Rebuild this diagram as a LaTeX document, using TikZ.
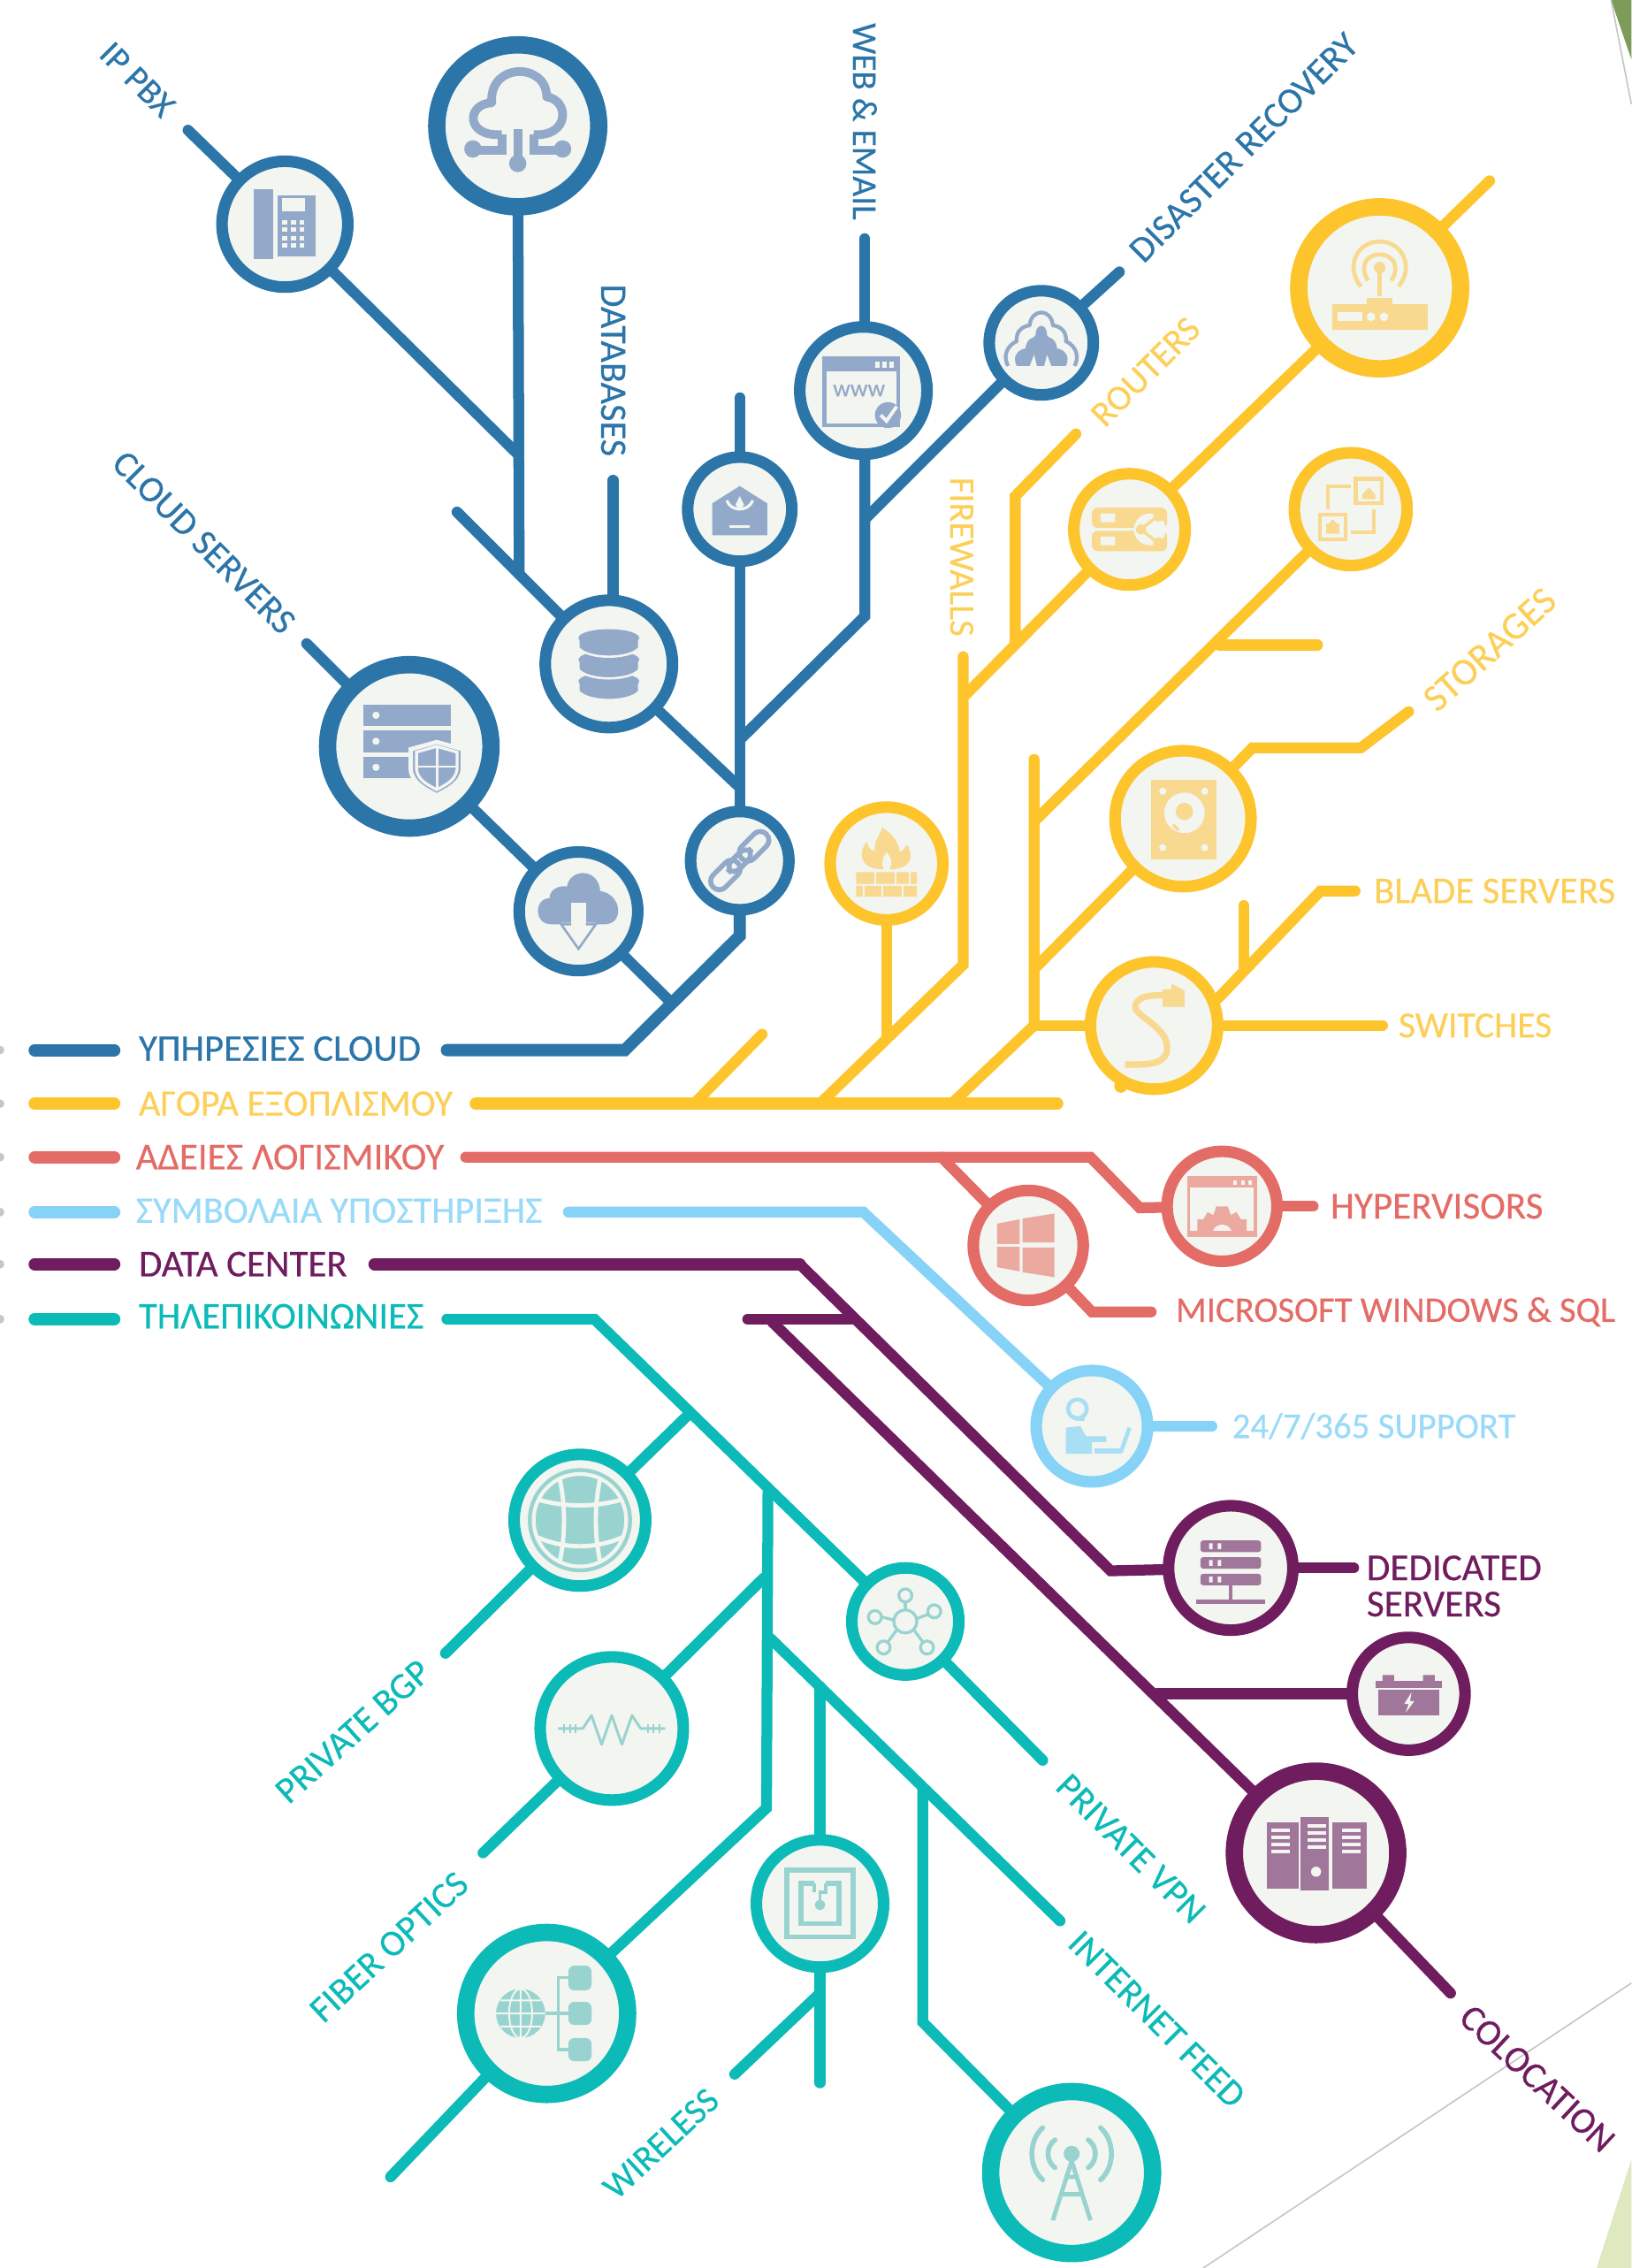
\documentclass[tikz,border=0pt]{standalone}
\usepackage{fontspec}
\usepackage{graphicx}
\setmainfont{Carlito}
\newfontfamily\labfont{Carlito}[FakeBold=0.35]
\usetikzlibrary{backgrounds}
\definecolor{cb}{HTML}{2B75A8}
\definecolor{cy}{HTML}{FDC42C}
\definecolor{cr}{HTML}{E36C66}
\definecolor{cl}{HTML}{86D3F7}
\definecolor{cp}{HTML}{6F1D5F}
\definecolor{ct}{HTML}{0CBAB7}
\definecolor{ty}{HTML}{FCCF58}
\definecolor{tl}{HTML}{98DAF8}
\definecolor{ib}{HTML}{93A9C9}
\definecolor{iy}{HTML}{F8D98F}
\definecolor{ir}{HTML}{EBA99F}
\definecolor{il}{HTML}{A9DFF5}
\definecolor{ip}{HTML}{A0769A}
\definecolor{it}{HTML}{99D3CF}
\definecolor{bgc}{HTML}{F2F5F0}
\definecolor{gdark}{HTML}{7E9C59}
\definecolor{glight}{HTML}{DFE9C0}
\newcommand{\fitw}[2]{\resizebox{\dimexpr #1pt/2\relax}{!}{#2}}
\newcommand{\ring}[6]{\node[ringnode,draw=#6,line width=#5*0.5pt,minimum size={(2*#4-#5)*0.5pt}] (#1) at (#2,#3) {};}
\tikzset{
  ringnode/.style={circle,fill=bgc,inner sep=0pt},
  wire/.style={line width=3.75pt,line cap=round,line join=miter,draw=#1},
  thick wire/.style={line width=4.25pt,line cap=round,line join=miter,draw=#1},
  lab/.style={text=#1,inner sep=0pt,outer sep=0pt,font=\labfont},
  icon at/.style={shift={(#1.center)}}
}
\begin{document}
\begin{tikzpicture}[x=0.5pt,y=-0.5pt]
\useasboundingbox (0,0) rectangle (1128,1568);
% page decoration
\fill[gdark] (1114,0) -- (1128,0) -- (1128,41) -- cycle;
\draw[gray!45,line width=0.5pt] (1114,0) -- (1128,72);
\fill[glight] (1128,1493) -- (1128,1568) -- (1104,1568) -- cycle;
\draw[gray!45,line width=0.5pt] (1128,1371) -- (832,1568);
\foreach \yy in {726,763,800,838,874,912} {\fill[gray!45] (0,\yy) circle[radius=3];}

% rings
\ring{phone}{197}{155}{47.5}{8}{cb}
\ring{cloudnet}{358}{87}{62}{12}{cb}
\ring{db}{421}{459}{48}{8}{cb}
\ring{cpanel}{511.5}{352}{40}{8}{cb}
\ring{www}{597}{270}{48}{8}{cb}
\ring{disaster}{720}{237}{40}{8}{cb}
\ring{cloudsrv}{283}{516}{62.5}{12}{cb}
\ring{clouddown}{400}{630}{45}{8}{cb}
\ring{link}{511.5}{595}{38}{8}{cb}
\ring{bigrouter}{954}{199}{62}{12}{cy}
\ring{routers}{781}{366}{42.5}{8}{cy}
\ring{stor}{934}{352}{43}{8}{cy}
\ring{fire}{613}{597}{43}{8}{cy}
\ring{hdd}{818}{566}{51}{8}{cy}
\ring{sw}{798}{709}{48}{8}{cy}
\ring{hyper}{845}{834}{42}{8}{cr}
\ring{windows}{711}{861}{42}{8}{cr}
\ring{support}{755}{986}{42.5}{8}{cl}
\ring{ded}{851}{1084}{47}{8}{cp}
\ring{batt}{974}{1171}{43}{8}{cp}
\ring{coloc}{910}{1281}{62.5}{12}{cp}
\ring{globe}{401}{1051}{49.5}{8}{ct}
\ring{res}{423}{1195}{53.5}{8}{ct}
\ring{hub}{626}{1121}{41}{8}{ct}
\ring{biggl}{378}{1392}{62}{12}{ct}
\ring{nfc}{567}{1316}{48}{8}{ct}
\ring{ant}{741}{1502}{62}{12}{ct}

% junctions
\foreach \n/\p in {bIP/{130,90},bJ1/{358,314},bJ2/{359,397},bCS/{316,354},bDB/{424,332},bJ3/{510,543},bCP/{511.5,275},bW/{598,165},bW2/{598,426},bJ4/{512,511},bD/{774,188},bJ5/{599,358},bB1/{511.5,647},bB2/{432,726},bH/{309,726},bCS2/{212,445},bJ6/{463,692},
yMA/{329,763},yMB/{731,763},yS1/{480,763},yS2/{527,715},yF1/{567,763},yF2/{666,667},yF3/{666,454},yF4/{613,718},yR1/{668,480},yR2/{1030,125},yT1/{702,444},yT2/{702,343},yT3/{744,300},yV1/{658,763},yV2/{715,709},yV3/{715,525},yN1/{717,566},yH1/{843,446},yH2/{911,446},yN2/{717,668},yG1/{866,517},yG2/{941,517},yG3/{974,492},yW/{956,709},yB1/{913,616},yB2/{937,616},yC1/{860,626},yC2/{860,668},
rA/{322,800},rB/{754,800},rC/{788,835},rD/{908,834},rE/{651,800},rF/{755,907},rG/{796,907},
lA/{393,838},lB/{597,838},lC/{838,986},
pA/{259,874},pB/{553,874},pC/{768,1086},pE/{936,1084},qA/{517,912},qB/{591,912},qC/{534,914},pF/{800,1171},pG/{1003,1378},
tA/{309,912},tB/{411,912},tC/{721,1217},tD/{475,979},tE/{308,1143},tF/{531,1032},tG/{530,1250},tH/{270,1505},tI/{528,1091},tJ/{334,1281},tK/{533,1133},tL/{733,1328},tM/{567,1166},tN/{567,1440},tO/{567,1378},tP/{508,1434},tQ/{638,1237},tR/{638,1398}}
{\coordinate (\n) at (\p);}
\foreach \n/\yy in {1/726,2/763,3/800,4/838,5/874,6/912} {\coordinate (stA\n) at (24,\yy); \coordinate (stB\n) at (79,\yy);}

\begin{pgfonlayer}{background}
% blue
\draw[wire=cb] (bIP) -- (phone);
\draw[wire=cb] (phone) -- (bJ1);
\draw[wire=cb] (cloudnet) -- (bJ2);
\draw[wire=cb] (bCS) -- (db);
\draw[wire=cb] (bDB) -- (bDB |- db);
\draw[wire=cb] (db) -- (bJ3);
\draw[wire=cb] (bCP) -- (cpanel);
\draw[wire=cb] (cpanel) -- (link);
\draw[wire=cb] (bW) -- (bW |- www);
\draw[wire=cb] (bW |- www) -- (bW2) -- (bJ4);
\draw[wire=cb] (bD) -- (disaster);
\draw[wire=cb] (disaster) -- (bJ5);
\draw[wire=cb] (bCS2) -- (cloudsrv);
\draw[wire=cb] (cloudsrv) -- (clouddown);
\draw[wire=cb] (clouddown) -- (bJ6);
\draw[thick wire=cb] (link) -- (bB1) -- (bB2) -- (bH);
\draw[thick wire=cb] (stA1) -- (stB1);
% yellow
\draw[thick wire=cy] (stA2) -- (stB2);
\draw[thick wire=cy] (yMA) -- (yMB);
\draw[wire=cy] (yS1) -- (yS2);
\draw[wire=cy] (yF1) -- (yF2) -- (yF3);
\draw[wire=cy] (fire) -- (yF4);
\draw[wire=cy] (yR1) -- (routers);
\draw[wire=cy] (routers) -- (bigrouter);
\draw[wire=cy] (bigrouter) -- (yR2);
\draw[wire=cy] (yT1) -- (yT2) -- (yT3);
\draw[wire=cy] (yV1) -- (yV2) -- (yV3);
\draw[wire=cy] (yN1) -- (stor);
\draw[wire=cy] (yH1) -- (yH2);
\draw[wire=cy] (yN2) -- (hdd);
\draw[wire=cy] (hdd) -- (yG1) -- (yG2) -- (yG3);
\draw[wire=cy] (yV2) -- (sw);
\draw[wire=cy] (sw) -- (yW);
\draw[wire=cy] (sw.23) -- (yB1) -- (yB2);
\draw[wire=cy] (yC1) -- (yC2);
% red
\draw[thick wire=cr] (stA3) -- (stB3);
\draw[wire=cr] (rA) -- (rB) -- (rC) -- (hyper);
\draw[wire=cr] (hyper) -- (rD);
\draw[wire=cr] (rE) -- (windows);
\draw[wire=cr] (windows) -- (rF) -- (rG);
% light blue
\draw[thick wire=cl] (stA4) -- (stB4);
\draw[wire=cl] (lA) -- (lB) -- (support);
\draw[wire=cl] (support) -- (lC);
% purple
\draw[thick wire=cp] (stA5) -- (stB5);
\draw[thick wire=cp] (pA) -- (pB);
\draw[wire=cp] (pB) -- (pC) -- (ded);
\draw[wire=cp] (ded) -- (pE);
\draw[wire=cp] (qA) -- (qB);
\draw[wire=cp] (qC) -- (coloc);
\draw[wire=cp] (pF) -- (batt);
\draw[wire=cp] (coloc) -- (pG);
% teal
\draw[thick wire=ct] (stA6) -- (stB6);
\draw[wire=ct] (tA) -- (tB) -- (hub);
\draw[wire=ct] (hub) -- (tC);
\draw[wire=ct] (tD) -- (globe);
\draw[wire=ct] (globe) -- (tE);
\draw[wire=ct] (tF) -- (tG) -- (biggl);
\draw[wire=ct] (biggl) -- (tH);
\draw[wire=ct] (tI) -- (res);
\draw[wire=ct] (res) -- (tJ);
\draw[wire=ct] (tK) -- (tL);
\draw[wire=ct] (tM) -- (nfc);
\draw[wire=ct] (nfc) -- (tN);
\draw[wire=ct] (tO) -- (tP);
\draw[wire=ct] (tQ) -- (tR) -- (ant);
\end{pgfonlayer}
\fill[cy] (775,751) circle[radius=4.5];

% ---- icons ----
\begin{scope}[icon at=phone]
 \fill[ib] (-21.5,-24) rectangle (-8,24);
 \fill[ib] (-5,-20) rectangle (21,22);
 \fill[bgc] (-2,-18) rectangle (14,-9);
 \foreach \a in {-2,4,10} \foreach \b in {-3,2,8,13} {\fill[bgc] (\a,\b) rectangle ++(3.5,3);}
\end{scope}
\begin{scope}[icon at=cloudnet]
 \draw[ib,line width=3pt,line join=round] (-11,6) .. controls (-36,8) and (-36,-15) .. (-18,-16) .. controls (-20,-44) and (20,-44) .. (20,-20) .. controls (36,-18) and (36,8) .. (11,6);
 \draw[ib,line width=3pt] (0,2) -- (0,22) (-11,6) -- (-11,17) -- (-28,17) (11,6) -- (11,17) -- (28,17);
 \fill[ib] (0,26) circle[radius=6] (-31,16) circle[radius=6] (31,16) circle[radius=6];
\end{scope}
\begin{scope}[icon at=db]
 \foreach \yy in {12,-3,-18} {
  \fill[ib] (-21,\yy) rectangle (21,\yy+7);
  \fill[ib,draw=bgc,line width=0.8pt] (-21,\yy) -- (-21,\yy+7) .. controls (-14,\yy+15) and (14,\yy+15) .. (21,\yy+7) -- (21,\yy) -- cycle;
  \fill[ib] (0,\yy) ellipse[x radius=21,y radius=6];
 }
\end{scope}
\begin{scope}[icon at=cpanel]
 \fill[ib] (-19,18) -- (19,18) -- (19,-4) -- (0,-16) -- (-19,-4) -- cycle;
 \draw[bgc,line width=1pt] (-9,-6) .. controls (-6,2) and (6,2) .. (9,-6);
 \fill[bgc] (0,-9) -- (3,-3) -- (0,1) -- (-3,-3) -- cycle;
 \draw[bgc,line width=0.8pt] (-7,12) -- (7,12);
\end{scope}
\begin{scope}[icon at=www]
 \draw[ib,line width=1.4pt] (-27,-22) rectangle (24,24);
 \fill[ib] (-27,-23) rectangle (24,-13);
 \foreach \a in {8,13,18} {\fill[bgc] (\a,-20) rectangle ++(3,4);}
 \node[text=ib,inner sep=0pt,font=\labfont] (wwwtxt) at (-3,0) {\fitw{36}{www}};
 \fill[ib] (17,17) circle[radius=9];
 \draw[bgc,line width=1.2pt] (12,17) -- (16,21) -- (23,11);
\end{scope}
\begin{scope}[icon at=disaster]
 \draw[ib,line width=1.3pt,line join=round] (-23,16) .. controls (-28,6) and (-20,0) .. (-17,-1) .. controls (-18,-10) and (-10,-12) .. (-8,-12) .. controls (-7,-24) and (7,-24) .. (8,-12) .. controls (10,-12) and (18,-10) .. (17,-1) .. controls (20,0) and (28,6) .. (23,16);
 \fill[ib] (-17,16) .. controls (-21,8) and (-14,4) .. (-11,4) .. controls (-10,-4) and (-5,-3) .. (-4,-5) .. controls (-4,-14) and (4,-14) .. (4,-5) .. controls (5,-3) and (10,-4) .. (11,4) .. controls (14,4) and (21,8) .. (17,16) -- (7,16) -- (4,8) -- (2,16) -- (-3,16) -- (-5,8) -- (-8,16) -- cycle;
\end{scope}
\begin{scope}[icon at=cloudsrv]
 \foreach \yy in {-29,-11,7} {\fill[ib] (-32,\yy) rectangle (29,\yy+15); \fill[bgc] (-23,\yy+7.5) circle[radius=2.5];}
 \fill[ib,draw=bgc,line width=1.5pt] (1,2) -- (19,-3) -- (37,2) -- (37,16) .. controls (36,26) and (26,30) .. (19,34) .. controls (12,30) and (2,26) .. (1,16) -- cycle;
 \draw[bgc,line width=1pt] (5,4) -- (19,0) -- (33,4) -- (33,16) .. controls (32,24) and (24,27) .. (19,30) .. controls (14,27) and (6,24) .. (5,16) -- cycle;
 \draw[bgc,line width=0.9pt] (19,0) -- (19,30) (5,14) -- (33,14);
\end{scope}
\begin{scope}[icon at=clouddown]
 \fill[ib] (-19,9) .. controls (-31,9) and (-31,-9) .. (-20,-9) .. controls (-20,-17) and (-10,-18) .. (-8,-17) .. controls (-6,-30) and (14,-30) .. (15,-14) .. controls (30,-12) and (32,9) .. (18,9) -- cycle;
 \fill[bgc] (-5,-6) rectangle (5,12);
 \fill[bgc] (-12,8) -- (12,8) -- (0,27) -- cycle;
 \draw[ib,line width=0.8pt] (-5,9) -- (-12,9) -- (0,26) -- (12,9) -- (5,9);
\end{scope}
\begin{scope}[icon at=link,rotate=45]
 \draw[ib,line width=1.7pt,rounded corners=3pt] (-26,-6) rectangle (-2,6);
 \draw[ib,line width=1.7pt,rounded corners=3pt] (2,-6) rectangle (26,6);
 \draw[ib,line width=1.7pt,rounded corners=3pt] (-10,-4) rectangle (10,4);
\end{scope}
\begin{scope}[icon at=bigrouter]
 \fill[iy] (-33,11) rectangle (33,29);
 \fill[iy] (-9,7) rectangle (9,12);
 \fill[bgc] (-29,17) rectangle (-12,23);
 \fill[bgc] (-6,20) circle[radius=3] (3,20) circle[radius=3];
 \draw[iy,line width=1.5pt] (0,-14) -- (0,6);
 \fill[iy] (0,-14) circle[radius=4];
 \draw[iy,line width=1.4pt] (-8,-5) .. controls (-14,-14) and (-10,-23) .. (0,-23) .. controls (10,-23) and (14,-14) .. (8,-5);
 \draw[iy,line width=1.4pt] (-13,-1) .. controls (-24,-14) and (-16,-32) .. (0,-32) .. controls (16,-32) and (24,-14) .. (13,-1);
\end{scope}
\begin{scope}[icon at=routers]
 \fill[iy,rounded corners=2pt] (-26,-15) rectangle (26,-1);
 \fill[iy,rounded corners=2pt] (-26,1) rectangle (26,15);
 \fill[bgc] (-20,-11) rectangle (-10,-5) (-20,5) rectangle (-10,11);
 \fill[bgc] (14,0) circle[radius=11];
 \draw[iy,line width=1pt] (8,0) -- (19,-9) (8,0) -- (19,9);
 \fill[iy] (8,0) circle[radius=3.5] (20,-9) circle[radius=3.5] (20,9) circle[radius=3.5];
\end{scope}
\begin{scope}[icon at=stor]
 \draw[iy,line width=1.3pt] (3.5,-21) rectangle (21.5,-4) (-21.5,4) rectangle (-3.5,21);
 \fill[iy] (8,-10) rectangle (17,-7) (-17,10) rectangle (-8,17);
 \fill[iy] (12.5,-15) -- (17,-10) -- (8,-10) -- cycle (-12.5,7) -- (-8,12) -- (-17,12) -- cycle;
 \draw[iy,line width=1.3pt] (0,-16) -- (-16,-16) -- (-16,0);
 \draw[iy,line width=1.3pt] (16,0) -- (16,16) -- (0,16);
\end{scope}
\begin{scope}[icon at=fire]
 \fill[iy] (-2,4) .. controls (-18,4) and (-20,-6) .. (-14,-15) .. controls (-12,-10) and (-10,-8) .. (-8,-9) .. controls (-9,-16) and (-4,-20) .. (-3,-25) .. controls (5,-20) and (9,-13) .. (9,-8) .. controls (12,-9) and (13,-12) .. (14,-13) .. controls (20,-4) and (16,4) .. (2,4) .. controls (5,0) and (3,-5) .. (0,-8) .. controls (-3,-4) and (-4,0) .. (-2,4) -- cycle;
 \fill[iy] (-21,6) rectangle (21,14) (-21,15.5) rectangle (21,23);
 \draw[bgc,line width=0.6pt] (-8,6) -- (-8,14) (6,6) -- (6,14) (16,6) -- (16,14) (-16,15) -- (-16,23) (-3,15) -- (-3,23) (11,15) -- (11,23);
\end{scope}
\begin{scope}[icon at=hdd]
 \fill[iy] (-22,-27) rectangle (23,28);
 \foreach \a/\b in {-14/-19,15/-19,-14/20,15/20} {\fill[bgc] (\a,\b) circle[radius=2.5];}
 \fill[bgc] (1,-4) circle[radius=14];
 \fill[iy] (1,-5) circle[radius=6];
 \draw[iy,line width=1pt] (-7,4) -- (-3,8);
\end{scope}
\begin{scope}[icon at=sw]
 \draw[iy,line width=2.2pt,line join=round] (-20,27) .. controls (-6,27) and (10,28) .. (9,14) .. controls (8,0) and (-16,-8) .. (-13,-14) .. controls (-11,-20) and (-4,-21) .. (6,-21);
 \fill[iy] (6,-25) -- (12,-25) -- (12,-29) -- (21,-24) -- (21,-13) -- (6,-13) -- cycle;
\end{scope}
\begin{scope}[icon at=hyper]
 \draw[ir,line width=1pt] (-23,-20) rectangle (23,20);
 \fill[ir] (-23,-20) rectangle (23,-13);
 \foreach \a in {8,13,18} {\fill[bgc] (\a,-18) rectangle ++(2.5,3);}
 \fill[ir] (-17,20) -- (-17,9) -- (-13,9) -- (-10,4) -- (-6,6) -- (-4,0) -- (4,0) -- (6,6) -- (10,4) -- (13,9) -- (17,9) -- (17,20) -- cycle;
 \fill[bgc] (-7,20) .. controls (-7,10) and (7,10) .. (7,20) -- cycle;
 \fill[ir] (-23,17) rectangle (23,20);
\end{scope}
\begin{scope}[icon at=windows]
 \fill[ir] (-21.5,-15) -- (-6,-18) -- (-6,-1) -- (-21.5,-1) -- cycle;
 \fill[ir] (-4,-18.5) -- (18,-22) -- (18,-2) -- (-4,-2) -- cycle;
 \fill[ir] (-21.5,1) -- (-6,1) -- (-6,18) -- (-21.5,15) -- cycle;
 \fill[ir] (-4,1.5) -- (18,1.5) -- (18,22) -- (-4,18.5) -- cycle;
\end{scope}
\begin{scope}[icon at=support]
 \draw[il,line width=1.4pt] (-10,-12) circle[radius=6.5];
 \draw[il,line width=1pt] (-16,-13) .. controls (-17,-4) and (-8,-4) .. (-5,-5);
 \fill[il] (-18,1) -- (-8,0) -- (-4,7) -- (10,7) -- (10,11) -- (0,11) -- (0,19) -- (-18,19) -- cycle;
 \fill[il] (2,15.5) rectangle (20,19);
 \draw[il,line width=1.4pt] (20,18) -- (26,1);
\end{scope}
\begin{scope}[icon at=ded]
 \foreach \yy in {-19,-7.5,4} {\fill[ip,rounded corners=1pt] (-21,\yy) rectangle (21,\yy+8); \fill[bgc] (-15,\yy+2) rectangle ++(2.5,4) (-9,\yy+2) rectangle ++(2.5,4);}
 \fill[ip] (-1,12) rectangle (1,22);
 \fill[ip] (-24,22) rectangle (24,25);
\end{scope}
\begin{scope}[icon at=batt]
 \fill[ip] (-23,-9) rectangle (23,-4);
 \fill[ip] (-18,-13) rectangle (-10,-9) (10,-13) rectangle (18,-9);
 \fill[ip] (-21,-3) rectangle (21,15);
 \fill[bgc] (2,-1) -- (-3,7) -- (0,7) -- (-2,13) -- (4,5) -- (1,5) -- cycle;
\end{scope}
\begin{scope}[icon at=coloc]
 \fill[ip] (-34,-21) rectangle (-12,25);
 \fill[ip] (-10.5,-25) rectangle (9,26);
 \fill[ip] (11,-21) rectangle (35,25);
 \foreach \yy in {-17,-12,-7,-2} {
  \fill[bgc] (-31,\yy) rectangle (-18,\yy+2.5);
  \fill[bgc] (-6,\yy-3) rectangle (7,\yy-0.5);
  \fill[bgc] (18,\yy) rectangle (31,\yy+2.5);}
 \fill[bgc] (0,13) circle[radius=3.5];
\end{scope}
\begin{scope}[icon at=globe]
 \fill[it] (0,0) circle[radius=36];
 \draw[bgc,line width=1.3pt] (0,0) circle[radius=32];
 \draw[bgc,line width=1.5pt] (-14,-29) .. controls (-10,-10) and (-10,10) .. (-14,29);
 \draw[bgc,line width=1.5pt] (14,-29) .. controls (10,-10) and (10,10) .. (14,29);
 \draw[bgc,line width=1.5pt] (-28,-14) .. controls (-10,-9) and (10,-9) .. (28,-14);
 \draw[bgc,line width=1.5pt] (-29,12) .. controls (-10,20) and (10,20) .. (29,12);
\end{scope}
\begin{scope}[icon at=res]
 \draw[it,line width=0.9pt,line join=round] (-37,0) -- (-20,0) -- (-14,-9) -- (-7,11) -- (0,-9) -- (7,11) -- (14,-9) -- (20,0) -- (37,0);
 \foreach \a in {-33,-29,-25,25,29,33} {\draw[it,line width=0.6pt] (\a,-3) -- (\a,3);}
\end{scope}
\begin{scope}[icon at=hub]
 \draw[it,line width=1pt] (0,0) circle[radius=8];
 \foreach \a/\b/\c/\d in {0/-8/0/-14,-8/-1/-16/-3,8/-2/16/-5,-6/6/-12/14,6/6/12/14} {\draw[it,line width=1pt] (\a,\b) -- (\c,\d);}
 \foreach \a/\b in {0/-18,-21/-3,20/-7,-15/18,15/18} {\draw[it,line width=1pt] (\a,\b) circle[radius=4.5];}
\end{scope}
\begin{scope}[icon at=biggl]
 \fill[it] (-18,0) circle[radius=17];
 \draw[bgc,line width=0.6pt] (-18,0) ellipse[x radius=8,y radius=17] (-18,-17) -- (-18,17) (-35,0) -- (-1,0) (-32,-9) -- (-4,-9) (-32,9) -- (-4,9);
 \draw[it,line width=1pt] (-1,0) -- (8,0) (15,0) -- (8,0) (15,-25) -- (8,-25) -- (8,25) -- (15,25);
 \fill[it,rounded corners=2pt] (15,-33) rectangle (31,-16) (15,-8) rectangle (31,8) (15,17) rectangle (31,33);
\end{scope}
\begin{scope}[icon at=nfc]
 \draw[it,line width=1.7pt] (-23,-23) rectangle (23,23);
 \draw[it,line width=1.7pt] (-4,-14) -- (-13,-14) -- (-13,14) -- (13,14) -- (13,-14) -- (4,-14);
 \draw[it,line width=1.2pt] (-4,-14) -- (-4,-8) (4,-14) -- (4,-8) -- (0,-8) -- (0,0);
 \fill[it] (0,1) circle[radius=3.5];
\end{scope}
\begin{scope}[icon at=ant]
 \fill[it] (0,-13) circle[radius=5.5];
 \draw[it,line width=1.5pt] (0,-8) -- (-13,33) (0,-8) -- (13,33) (-8,15) -- (8,15) (-5,3) -- (5,3);
 \draw[it,line width=1.7pt,line cap=round] (-11.5,-22.6) .. controls (-18,-18) and (-18,-8) .. (-11.5,-3.4);
 \draw[it,line width=1.7pt,line cap=round] (11.5,-22.6) .. controls (18,-18) and (18,-8) .. (11.5,-3.4);
 \draw[it,line width=1.7pt,line cap=round] (-20,-31) .. controls (-30,-22) and (-30,-4) .. (-20,5);
 \draw[it,line width=1.7pt,line cap=round] (20,-31) .. controls (30,-22) and (30,-4) .. (20,5);
\end{scope}

% ---- labels ----
\node[lab=cb,rotate=-45] (tipbx) at (95,55) {\fitw{62}{IP PBX}};
\node[lab=cb,rotate=-45] (tcsrv) at (141,375) {\fitw{167}{CLOUD SERVERS}};
\node[lab=cb,rotate=-90] (tdb) at (424,256) {\fitw{119}{DATABASES}};
\node[lab=cb,rotate=-90] (tweb) at (598,84) {\fitw{136}{WEB \& EMAIL}};
\node[lab=cb,rotate=45] (tdis) at (860,102) {\fitw{212}{DISASTER RECOVERY}};
\node[lab=ty,rotate=45] (trout) at (792,257) {\fitw{95}{ROUTERS}};
\node[lab=ty,rotate=-90] (tfw) at (665,385) {\fitw{110}{FIREWALLS}};
\node[lab=ty,rotate=42] (tstor) at (1030,449) {\fitw{113}{STORAGES}};
\node[lab=ty,anchor=west] (tblade) at (950,616) {\fitw{167}{BLADE SERVERS}};
\node[lab=ty,anchor=west] (tswitch) at (967,709) {\fitw{106}{SWITCHES}};
\node[lab=cr,anchor=west] (thyper) at (920,834) {\fitw{147}{HYPERVISORS}};
\node[lab=cr,anchor=west] (tms) at (813,907) {\fitw{304}{MICROSOFT WINDOWS \& SQL}};
\node[lab=tl,anchor=west] (tsup) at (852,986) {\fitw{196}{24/7/365 SUPPORT}};
\node[lab=cp,anchor=west] (tded) at (945,1084) {\fitw{121}{DEDICATED}};
\node[lab=cp,anchor=west] (tsrv) at (945,1109) {\fitw{93}{SERVERS}};
\node[lab=cp,rotate=-43] (tcol) at (1063,1437) {\fitw{136}{COLOCATION}};
\node[lab=ct,rotate=-45] (tvpn) at (782,1278) {\fitw{134}{PRIVATE VPN}};
\node[lab=ct,rotate=-45] (tfeed) at (800,1396) {\fitw{161}{INTERNET FEED}};
\node[lab=ct,rotate=42] (tbgp) at (244,1197) {\fitw{134}{PRIVATE BGP}};
\node[lab=ct,rotate=43] (tfib) at (269,1346) {\fitw{139}{FIBER OPTICS}};
\node[lab=ct,rotate=43] (twir) at (457,1482) {\fitw{99}{WIRELESS}};
\node[lab=cb,anchor=west] (lg1) at (96,725) {\fitw{195}{ΥΠΗΡΕΣΙΕΣ CLOUD}};
\node[lab=ty,anchor=west] (lg2) at (96,763) {\fitw{217}{ΑΓΟΡΑ ΕΞΟΠΛΙΣΜΟΥ}};
\node[lab=cr,anchor=west] (lg3) at (94,800) {\fitw{213}{ΑΔΕΙΕΣ ΛΟΓΙΣΜΙΚΟΥ}};
\node[lab=tl,anchor=west] (lg4) at (94,837) {\fitw{281}{ΣΥΜΒΟΛΑΙΑ ΥΠΟΣΤΗΡΙΞΗΣ}};
\node[lab=cp,anchor=west] (lg5) at (96,874) {\fitw{144}{DATA CENTER}};
\node[lab=ct,anchor=west] (lg6) at (96,910) {\fitw{197}{ΤΗΛΕΠΙΚΟΙΝΩΝΙΕΣ}};
\end{tikzpicture}
\end{document}
